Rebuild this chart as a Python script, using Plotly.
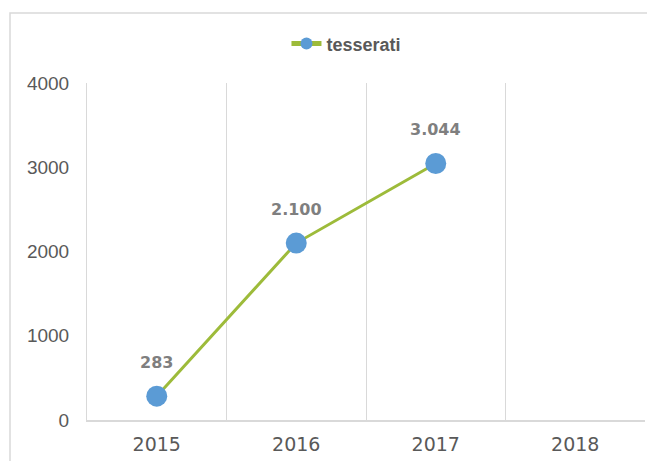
import plotly.graph_objects as go

# dati
anni = ["2015", "2016", "2017", "2018"]
tesserati = [283, 2100, 3044, None]
etichette = ["283", "2.100", "3.044", ""]
nome_serie = "tesserati"

VERDE = "#9DBB3A"
BLU = "#5B9BD5"
GRIGIO = "#D9D9D9"
TESTO = "#595959"

fig = go.Figure()
fig.add_trace(
    go.Scatter(
        x=anni,
        y=tesserati,
        mode="lines+markers",
        name=nome_serie,
        line={"color": VERDE, "width": 3},
        marker={"color": BLU, "size": 21},
        hoverinfo="x+y",
    )
)

# etichette dati sopra i punti (x come indice di categoria:
# "2015" come stringa verrebbe letto come posizione numerica)
for i, (valore, testo) in enumerate(zip(tesserati, etichette)):
    if valore is None:
        continue
    fig.add_annotation(
        x=i,
        y=valore,
        text=testo,
        showarrow=False,
        yshift=34,
        font={"family": "DejaVu Sans", "size": 16, "color": "#7F7F7F", "weight": "bold"},
    )

# bordo del grafico (tagliato a destra e in basso, come nell'immagine)
fig.add_shape(
    type="rect",
    xref="paper",
    yref="paper",
    x0=-0.138,
    x1=1.2,
    y0=-0.3,
    y1=1.2077,
    line={"color": GRIGIO, "width": 1.5},
    layer="below",
)

# la pagina ha 8px di margine: la figura è 647x453
fig.update_layout(
    width=647,
    height=453,
    margin={"l": 79, "r": 10, "t": 75, "b": 41},
    paper_bgcolor="white",
    plot_bgcolor="white",
    showlegend=True,
    legend={
        "orientation": "h",
        "x": 0.465,
        "y": 1.116,
        "xanchor": "center",
        "yanchor": "middle",
        "font": {"family": "Liberation Sans", "size": 18, "color": TESTO, "weight": "bold"},
        "itemsizing": "constant",
    },
    xaxis={
        "type": "category",
        "automargin": False,
        "tickson": "boundaries",
        "showgrid": True,
        "gridcolor": GRIGIO,
        "gridwidth": 1,
        "showline": True,
        "linecolor": GRIGIO,
        "linewidth": 1.5,
        "ticks": "",
        "ticklabelstandoff": 6,
        "tickfont": {"family": "DejaVu Sans", "size": 19, "color": TESTO},
        "range": [-0.5, 3.5],
    },
    yaxis={
        "automargin": False,
        "range": [0, 4000],
        "dtick": 1000,
        "showgrid": False,
        "zeroline": False,
        "showline": True,
        "linecolor": GRIGIO,
        "linewidth": 1,
        "ticks": "",
        "ticklabelstandoff": 13,
        "tickformat": "d",
        "tickfont": {"family": "Liberation Sans", "size": 19, "color": TESTO},
    },
)

fig.write_html("out.html")
